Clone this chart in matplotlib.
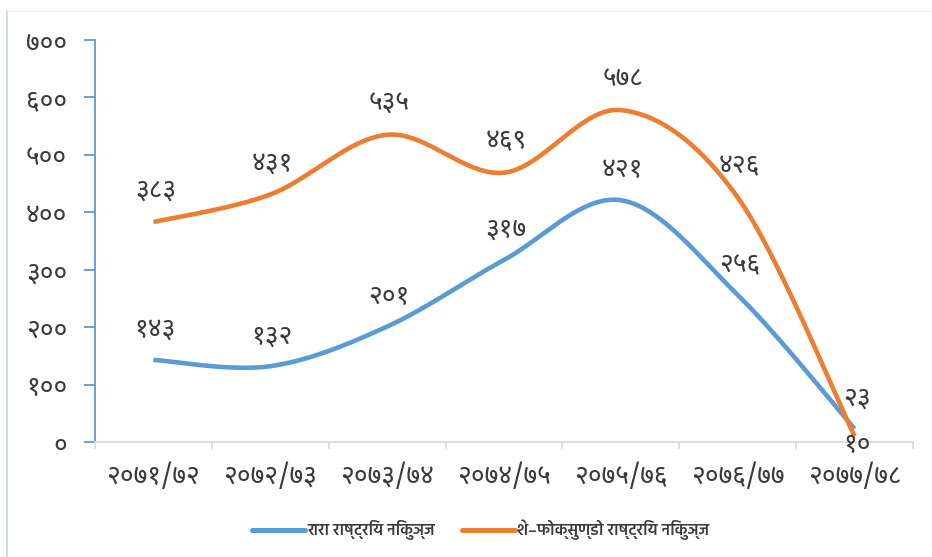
import os
import numpy as np
import matplotlib
matplotlib.use("Agg")
import matplotlib.pyplot as plt
from matplotlib import font_manager
from matplotlib.lines import Line2D

# ---------------- data ----------------
categories = ["२०७१/७२", "२०७२/७३", "२०७३/७४", "२०७४/७५", "२०७५/७६", "२०७६/७७", "२०७७/७८"]
rara = [143, 132, 201, 317, 421, 256, 23]
shey = [383, 431, 535, 469, 578, 426, 10]
series_names = ["रारा राष्ट्रिय निकुञ्ज", "शे–फोक्सुण्डो राष्ट्रिय निकुञ्ज"]
yticks = [0, 100, 200, 300, 400, 500, 600, 700]

DEV = str.maketrans("0123456789", "०१२३४५६७८९")


def dev(n):
    return str(n).translate(DEV)


# ---------------- font with Devanagari glyphs ----------------
def find_font(prefs):
    paths = set(f.fname for f in font_manager.fontManager.ttflist)
    try:
        paths |= set(font_manager.findSystemFonts())
    except Exception:
        pass
    base = {}
    for p in sorted(paths):
        base.setdefault(os.path.basename(p).lower(), p)
    for pref in prefs:
        for b, p in sorted(base.items()):
            if b.startswith(pref.lower()):
                try:
                    font_manager.fontManager.addfont(p)
                    return font_manager.FontProperties(fname=p)
                except Exception:
                    continue
    return None


PREFS_REG = ["NotoSansDevanagari-Regular", "NotoSansDevanagari[", "NotoSansDevanagari",
             "Hind-Regular", "Mukta-Regular", "Poppins-Regular", "FreeSans.ttf"]
PREFS_BOLD = ["NotoSansDevanagari-SemiBold", "NotoSansDevanagari-Medium", "NotoSansDevanagari-Bold",
              "Hind-SemiBold", "Mukta-SemiBold", "FreeSansBold.ttf"]
fp_main = find_font(PREFS_REG) or font_manager.FontProperties(family="DejaVu Sans")
fp_leg = find_font(PREFS_BOLD) or fp_main

TXT = "#3A3A3A"
BLUE = "#5B9BD5"
ORANGE = "#ED7D31"


def FP(size, base=None):
    f = (base or fp_main).copy()
    f.set_size(size)
    return f


# ---------------- Excel-like smoothing (Catmull-Rom Bezier) ----------------
def smooth(xs, ys, n=40):
    P = np.column_stack([xs, ys]).astype(float)
    m = len(P)
    out = []
    for i in range(m - 1):
        p0 = P[i - 1] if i > 0 else P[i]
        p1 = P[i]
        p2 = P[i + 1]
        p3 = P[i + 2] if i + 2 < m else P[i + 1]
        c1 = p1 + (p2 - p0) / 6.0
        c2 = p2 - (p3 - p1) / 6.0
        t = np.linspace(0, 1, n)[:, None]
        seg = ((1 - t) ** 3) * p1 + 3 * ((1 - t) ** 2) * t * c1 + 3 * (1 - t) * t ** 2 * c2 + t ** 3 * p2
        out.append(seg if i == 0 else seg[1:])
    out = np.vstack(out)
    return out[:, 0], out[:, 1]


fig = plt.figure(figsize=(9.32, 5.57), dpi=100)
ax = fig.add_axes([95 / 932, 1 - 442 / 557, (913 - 95) / 932, (442 - 40) / 557])

x = np.arange(len(categories))
for vals, col in [(rara, BLUE), (shey, ORANGE)]:
    sx, sy = smooth(x, vals)
    ax.plot(sx, sy, color=col, lw=3.3, solid_capstyle="butt", zorder=3)

FS = 19
ax.set_xlim(-0.5, len(categories) - 0.5)
ax.set_ylim(0, 700)
ax.set_yticks(yticks)
ax.set_yticklabels([dev(v) for v in yticks], fontproperties=FP(FS), color=TXT)
ax.set_xticks(x)
ax.set_xticklabels(categories, fontproperties=FP(FS), color=TXT)
ax.tick_params(axis="x", length=0, pad=15)
ax.set_xticks(np.arange(-0.5, len(categories), 1.0), minor=True)
ax.tick_params(axis="x", which="minor", length=5, color="#D9D9D9", width=1.2)
ax.tick_params(axis="y", length=8, color=BLUE, width=1.3, pad=12, direction="out")

for s in ["top", "right"]:
    ax.spines[s].set_visible(False)
ax.spines["left"].set_color(BLUE)
ax.spines["left"].set_linewidth(1.3)
ax.spines["bottom"].set_color("#D9D9D9")
ax.spines["bottom"].set_linewidth(1.3)

# data labels
for i, v in enumerate(rara):
    ax.annotate(dev(v), (i, v), xytext=(2, 30), textcoords="offset pixels",
                ha="center", va="center", fontproperties=FP(FS), color=TXT, zorder=4)
for i, v in enumerate(shey):
    off = (2, 31) if i < len(shey) - 1 else (2, -9)
    ax.annotate(dev(v), (i, v), xytext=off, textcoords="offset pixels",
                ha="center", va="center", fontproperties=FP(FS), color=TXT, zorder=4)

# legend
handles = [Line2D([], [], color=BLUE, lw=3.6, solid_capstyle="round"),
           Line2D([], [], color=ORANGE, lw=3.6, solid_capstyle="round")]
leg = fig.legend(handles, series_names, loc="center", bbox_to_anchor=(481 / 932, 1 - 530 / 557),
                 ncol=2, frameon=False, prop=FP(11.5, fp_leg), handlelength=3.3, handletextpad=0.15,
                 columnspacing=1.7, labelcolor=TXT)

# faint outer frame
fig.add_artist(Line2D([7 / 932, 7 / 932], [0, 1 - 11 / 557], transform=fig.transFigure,
                      color="#C9DDF2", lw=1.5))
fig.add_artist(Line2D([7 / 932, 1], [1 - 11 / 557, 1 - 11 / 557], transform=fig.transFigure,
                      color="#EEF3FA", lw=1.0))

fig.savefig("out.png", dpi=100)
